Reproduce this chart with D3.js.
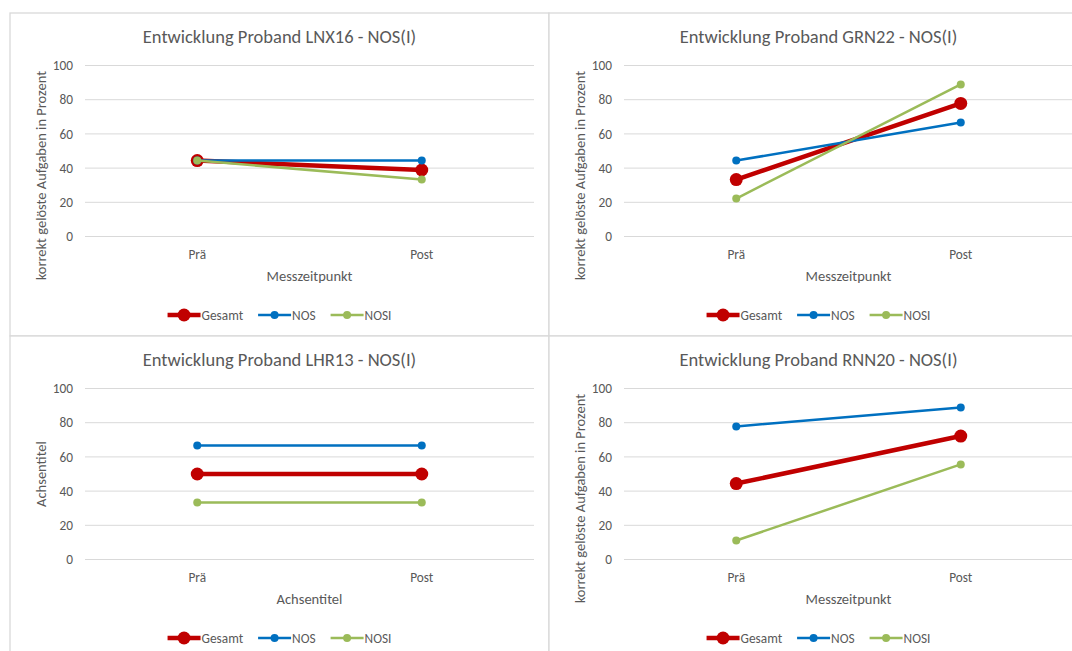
<!DOCTYPE html>
<html>
<head>
<meta charset="utf-8">
<script src="https://cdn.jsdelivr.net/npm/d3@7"></script>
<style>
  body { margin: 0; background: #fff; }
  svg { display: block; }
  text { font-family: Carlito, Calibri, Lato, sans-serif; fill: #595959; }
</style>
</head>
<body>
<svg id="chart" width="1072" height="651"></svg>
<script>
// Measurement points and axis ticks shared by all four panels
const categories = ["Prä", "Post"];
const yTicks = [0, 20, 40, 60, 80, 100];
const seriesNames = ["Gesamt", "NOS", "NOSI"];
const seriesColors = ["#C00000", "#0070C0", "#9BBB59"];

// Percent of correctly solved tasks per participant (Prä, Post)
const lnx16Gesamt = [44.4, 38.9];
const lnx16Nos    = [44.4, 44.4];
const lnx16Nosi   = [44.4, 33.3];

const grn22Gesamt = [33.3, 77.8];
const grn22Nos    = [44.4, 66.7];
const grn22Nosi   = [22.2, 88.9];

const lhr13Gesamt = [50.0, 50.0];
const lhr13Nos    = [66.7, 66.7];
const lhr13Nosi   = [33.3, 33.3];

const rnn20Gesamt = [44.4, 72.2];
const rnn20Nos    = [77.8, 88.9];
const rnn20Nosi   = [11.1, 55.6];

const titles = [
  "Entwicklung Proband LNX16 - NOS(I)",
  "Entwicklung Proband GRN22 - NOS(I)",
  "Entwicklung Proband LHR13 - NOS(I)",
  "Entwicklung Proband RNN20 - NOS(I)"
];
const xTitles = ["Messzeitpunkt", "Messzeitpunkt", "Achsentitel", "Messzeitpunkt"];
const yTitles = [
  "korrekt gelöste Aufgaben in Prozent",
  "korrekt gelöste Aufgaben in Prozent",
  "Achsentitel",
  "korrekt gelöste Aufgaben in Prozent"
];
const panelSeries = [
  [lnx16Gesamt, lnx16Nos, lnx16Nosi],
  [grn22Gesamt, grn22Nos, grn22Nosi],
  [lhr13Gesamt, lhr13Nos, lhr13Nosi],
  [rnn20Gesamt, rnn20Nos, rnn20Nosi]
];

// Panel grid geometry
const colX = [10, 549];
const rowY = [13, 336];
const chartW = 539, chartH = 323;
const plotLeft = 75, plotW = 449, plotTop = 52.5, plotBottom = 223.5;

// Line and marker styling per series
const lineW = [4.5, 2.5, 2.5];
const markR = [6.5, 4, 4];

const svg = d3.select("#chart");

panelSeries.forEach((series, i) => {
  const x0 = colX[i % 2], y0 = rowY[Math.floor(i / 2)];
  const g = svg.append("g").attr("transform", `translate(${x0},${y0})`);

  // chart area frame
  g.append("rect")
    .attr("x", 0).attr("y", 0).attr("width", chartW).attr("height", chartH)
    .attr("fill", "#fff").attr("stroke", "#d9d9d9").attr("stroke-width", 1.3);

  const x = d3.scaleBand().domain(categories).range([plotLeft, plotLeft + plotW]);
  const y = d3.scaleLinear().domain([0, 100]).range([plotBottom, plotTop]);

  // title
  g.append("text")
    .attr("x", chartW / 2).attr("y", 23.5).attr("dy", "0.35em")
    .attr("text-anchor", "middle").style("font-size", "18.5px")
    .text(titles[i]);

  // horizontal gridlines
  g.append("g").selectAll("line").data(yTicks).join("line")
    .attr("x1", plotLeft).attr("x2", plotLeft + plotW)
    .attr("y1", d => y(d)).attr("y2", d => y(d))
    .attr("stroke", "#d9d9d9").attr("stroke-width", 1);

  // y axis tick labels
  const yAxis = d3.axisLeft(y).tickValues(yTicks).tickSize(0).tickPadding(0);
  const ya = g.append("g").attr("transform", `translate(${plotLeft - 12},0)`).call(yAxis);
  ya.select(".domain").remove();
  ya.selectAll("text").style("font-size", "13.3px").style("font-family", null).attr("fill", null);

  // x axis category labels
  const xAxis = d3.axisBottom(x).tickSize(0).tickPadding(0);
  const xa = g.append("g").attr("transform", `translate(0,${plotBottom})`).call(xAxis);
  xa.select(".domain").remove();
  xa.selectAll("text").attr("y", 17.5).attr("dy", "0.35em")
    .style("font-size", "13.3px").style("font-family", null).attr("fill", null);

  // x axis title
  g.append("text")
    .attr("x", plotLeft + plotW / 2).attr("y", 262.5).attr("dy", "0.35em")
    .attr("text-anchor", "middle").style("font-size", "14.5px")
    .text(xTitles[i]);

  // y axis title
  const yt = g.append("text")
    .attr("text-anchor", "middle").style("font-size", "14.5px")
    .text(yTitles[i]);
  const len = yt.node().getComputedTextLength();
  const cy = Math.max((plotTop + plotBottom) / 2, 58 + len / 2);
  yt.attr("transform", `translate(30.5,${cy}) rotate(-90)`).attr("dy", "0.35em");

  // series lines and markers
  const line = d3.line().x((d, k) => x(categories[k]) + x.bandwidth() / 2).y(d => y(d));
  series.forEach((vals, s) => {
    g.append("path").datum(vals)
      .attr("d", line).attr("fill", "none")
      .attr("stroke", seriesColors[s]).attr("stroke-width", lineW[s])
      .attr("stroke-linecap", "round");
    g.append("g").selectAll("circle").data(vals).join("circle")
      .attr("cx", (d, k) => x(categories[k]) + x.bandwidth() / 2)
      .attr("cy", d => y(d))
      .attr("r", markR[s]).attr("fill", seriesColors[s]);
  });

  // legend, centered on the chart area
  const lg = g.append("g").attr("transform", "translate(0,302)");
  const sampleLen = 33, gap = 1, itemGap = 15;
  const items = seriesNames.map((name, s) => {
    const it = lg.append("g");
    it.append("line").attr("x1", 0).attr("x2", sampleLen).attr("y1", 0).attr("y2", 0)
      .attr("stroke", seriesColors[s]).attr("stroke-width", lineW[s]);
    it.append("circle").attr("cx", sampleLen / 2).attr("cy", 0).attr("r", markR[s])
      .attr("fill", seriesColors[s]);
    const t = it.append("text").attr("x", sampleLen + gap).attr("dy", "0.35em")
      .style("font-size", "13.3px").text(name);
    return { it, w: sampleLen + gap + t.node().getComputedTextLength() };
  });
  const total = d3.sum(items, d => d.w) + itemGap * (items.length - 1);
  let cx = chartW / 2 - total / 2;
  items.forEach(d => { d.it.attr("transform", `translate(${cx},0)`); cx += d.w + itemGap; });
});
</script>
</body>
</html>
